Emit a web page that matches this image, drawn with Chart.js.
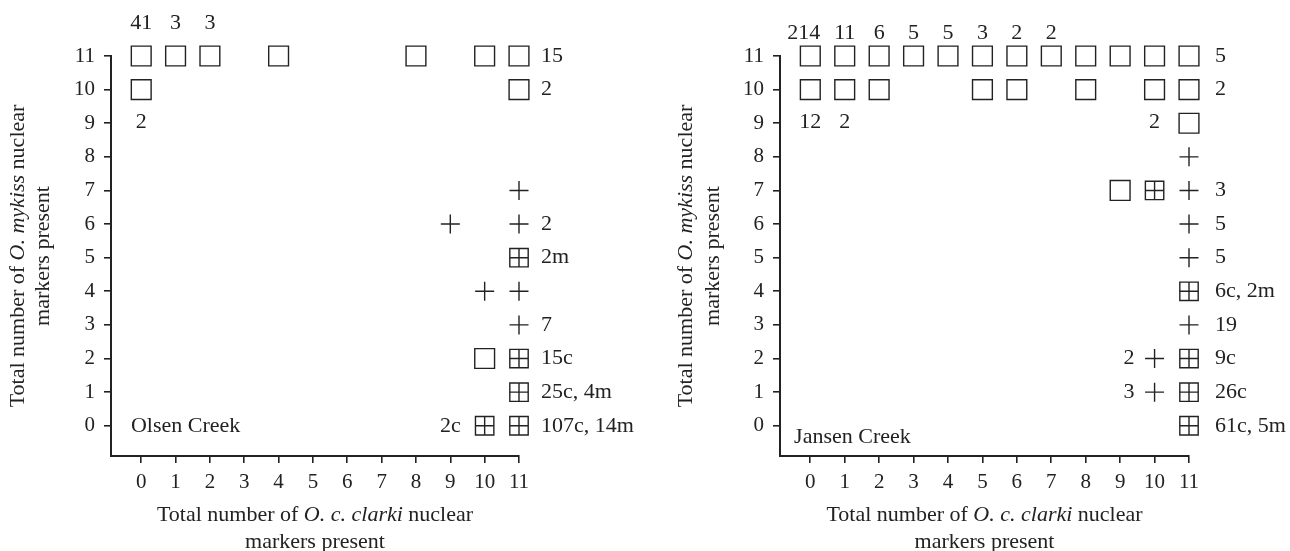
<!DOCTYPE html>
<html>
<head>
<meta charset="utf-8">
<script src="https://cdn.jsdelivr.net/npm/chart.js@4"></script>
<style>
  body { margin: 0; background: #fff; }
  #wrap { position: relative; width: 1290px; height: 551px; }
  canvas { position: absolute; top: 0; }
</style>
</head>
<body>
<div id="wrap">
  <canvas id="olsen" width="645" height="551" style="left:0"></canvas>
  <canvas id="jansen" width="645" height="551" style="left:645px"></canvas>
</div>
<script>
let tickValues = [0, 1, 2, 3, 4, 5, 6, 7, 8, 9, 10, 11];

// Olsen Creek
let olsenSquares = [
  {x: 0, y: 11}, {x: 1, y: 11}, {x: 2, y: 11}, {x: 4, y: 11}, {x: 8, y: 11}, {x: 10, y: 11}, {x: 11, y: 11},
  {x: 0, y: 10}, {x: 11, y: 10}, {x: 10, y: 2}
];
let olsenPlus = [{x: 11, y: 7}, {x: 9, y: 6}, {x: 11, y: 6}, {x: 10, y: 4}, {x: 11, y: 4}, {x: 11, y: 3}];
let olsenBoxed = [{x: 11, y: 5}, {x: 11, y: 2}, {x: 11, y: 1}, {x: 10, y: 0}, {x: 11, y: 0}];
let olsenCounts = [
  {x: 0, y: 11, text: '41', pos: 'above'}, {x: 1, y: 11, text: '3', pos: 'above'}, {x: 2, y: 11, text: '3', pos: 'above'},
  {x: 11, y: 11, text: '15', pos: 'right'}, {x: 0, y: 10, text: '2', pos: 'below'}, {x: 11, y: 10, text: '2', pos: 'right'},
  {x: 11, y: 6, text: '2', pos: 'right'}, {x: 11, y: 5, text: '2m', pos: 'right'}, {x: 11, y: 3, text: '7', pos: 'right'},
  {x: 11, y: 2, text: '15c', pos: 'right'}, {x: 11, y: 1, text: '25c, 4m', pos: 'right'},
  {x: 10, y: 0, text: '2c', pos: 'left'}, {x: 11, y: 0, text: '107c, 14m', pos: 'right'}
];

// Jansen Creek
let jansenSquares = [
  {x: 0, y: 11}, {x: 1, y: 11}, {x: 2, y: 11}, {x: 3, y: 11}, {x: 4, y: 11}, {x: 5, y: 11},
  {x: 6, y: 11}, {x: 7, y: 11}, {x: 8, y: 11}, {x: 9, y: 11}, {x: 10, y: 11}, {x: 11, y: 11},
  {x: 0, y: 10}, {x: 1, y: 10}, {x: 2, y: 10}, {x: 5, y: 10}, {x: 6, y: 10}, {x: 8, y: 10}, {x: 10, y: 10}, {x: 11, y: 10},
  {x: 11, y: 9}, {x: 9, y: 7}
];
let jansenPlus = [{x: 11, y: 8}, {x: 11, y: 7}, {x: 11, y: 6}, {x: 11, y: 5}, {x: 11, y: 3}, {x: 10, y: 2}, {x: 10, y: 1}];
let jansenBoxed = [{x: 10, y: 7}, {x: 11, y: 4}, {x: 11, y: 2}, {x: 11, y: 1}, {x: 11, y: 0}];
let jansenCounts = [
  {x: 0, y: 11, text: '214', pos: 'above-left'}, {x: 1, y: 11, text: '11', pos: 'above'}, {x: 2, y: 11, text: '6', pos: 'above'},
  {x: 3, y: 11, text: '5', pos: 'above'}, {x: 4, y: 11, text: '5', pos: 'above'}, {x: 5, y: 11, text: '3', pos: 'above'},
  {x: 6, y: 11, text: '2', pos: 'above'}, {x: 7, y: 11, text: '2', pos: 'above'},
  {x: 11, y: 11, text: '5', pos: 'right'}, {x: 11, y: 10, text: '2', pos: 'right'},
  {x: 0, y: 10, text: '12', pos: 'below'}, {x: 1, y: 10, text: '2', pos: 'below'}, {x: 10, y: 10, text: '2', pos: 'below'},
  {x: 11, y: 7, text: '3', pos: 'right'}, {x: 11, y: 6, text: '5', pos: 'right'}, {x: 11, y: 5, text: '5', pos: 'right'},
  {x: 11, y: 4, text: '6c, 2m', pos: 'right'}, {x: 11, y: 3, text: '19', pos: 'right'},
  {x: 10, y: 2, text: '2', pos: 'left'}, {x: 11, y: 2, text: '9c', pos: 'right'},
  {x: 10, y: 1, text: '3', pos: 'left'}, {x: 11, y: 1, text: '26c', pos: 'right'},
  {x: 11, y: 0, text: '61c, 5m', pos: 'right'}
];

let ink = '#222';
let fontFamily = '"Liberation Serif", "DejaVu Serif", serif';
let tickSize = 21;
let fontSize = 22;

function richLine(ctx, parts, cx, cy) {
  let widths = parts.map(p => {
    ctx.font = (p[1] ? 'italic ' : '') + fontSize + 'px ' + fontFamily;
    return ctx.measureText(p[0]).width;
  });
  let total = widths.reduce((a, b) => a + b, 0);
  let x = cx - total / 2;
  parts.forEach((p, i) => {
    ctx.font = (p[1] ? 'italic ' : '') + fontSize + 'px ' + fontFamily;
    ctx.fillText(p[0], x, cy);
    x += widths[i];
  });
}

let notesPlugin = {
  id: 'notes',
  afterDatasetsDraw(chart, args, opts) {
    let ctx = chart.ctx, xs = chart.scales.x, ys = chart.scales.y, area = chart.chartArea;
    ctx.save();
    ctx.fillStyle = ink;
    ctx.font = fontSize + 'px ' + fontFamily;
    ctx.textBaseline = 'middle';
    opts.counts.forEach(n => {
      let px = xs.getPixelForValue(n.x), py = ys.getPixelForValue(n.y);
      if (n.pos === 'above') { ctx.textAlign = 'center'; ctx.fillText(n.text, px, py - opts.gap.above); }
      if (n.pos === 'above-left') { ctx.textAlign = 'right'; ctx.fillText(n.text, px + 10, py - opts.gap.above); }
      if (n.pos === 'below') { ctx.textAlign = 'center'; ctx.fillText(n.text, px, py + opts.gap.below); }
      if (n.pos === 'right') { ctx.textAlign = 'left'; ctx.fillText(n.text, px + opts.gap.right, py); }
      if (n.pos === 'left') { ctx.textAlign = 'right'; ctx.fillText(n.text, px - opts.gap.left, py); }
    });
    ctx.textAlign = 'left';
    ctx.fillText(opts.site.text, xs.getPixelForValue(opts.site.x), ys.getPixelForValue(opts.site.y));

    // axis titles
    let cx = (area.left + area.right) / 2;
    richLine(ctx, [['Total number of ', false], ['O. c. clarki', true], [' nuclear', false]], cx, 515);
    richLine(ctx, [['markers present', false]], cx, 542);
    let cy = (area.top + area.bottom) / 2;
    ctx.save();
    ctx.translate(opts.yTitleX[0], cy);
    ctx.rotate(-Math.PI / 2);
    richLine(ctx, [['Total number of ', false], ['O. mykiss', true], [' nuclear', false]], 0, 0);
    ctx.restore();
    ctx.save();
    ctx.translate(opts.yTitleX[1], cy);
    ctx.rotate(-Math.PI / 2);
    richLine(ctx, [['markers present', false]], 0, 0);
    ctx.restore();
    ctx.restore();
  }
};

function makeChart(id, squares, plus, boxed, notes, axisWidth, padRight) {
  let mark = {borderColor: ink, backgroundColor: 'rgba(0,0,0,0)', borderWidth: 1.4, clip: false, showLine: false};
  return new Chart(document.getElementById(id), {
    type: 'scatter',
    data: {
      datasets: [
        Object.assign({data: squares, pointStyle: 'rect', pointRadius: 14}, mark),
        Object.assign({data: plus, pointStyle: 'cross', pointRadius: 9.5}, mark),
        Object.assign({data: boxed, pointStyle: 'rect', pointRadius: 13}, mark),
        Object.assign({data: boxed, pointStyle: 'cross', pointRadius: 9.2}, mark),
      ]
    },
    options: {
      responsive: false,
      animation: false,
      events: [],
      layout: {padding: {top: 56, right: padRight, bottom: 0, left: 0}},
      plugins: {legend: {display: false}, tooltip: {enabled: false}, notes: notes},
      scales: {
        x: {
          type: 'linear', min: -0.88, max: 11,
          afterFit: s => { s.height = 95; },
          afterBuildTicks: s => { s.ticks = tickValues.map(v => ({value: v})); },
          border: {display: true, color: ink, width: 2},
          grid: {display: true, drawOnChartArea: false, drawTicks: true, tickLength: 7, color: ink, lineWidth: 1.6},
          ticks: {color: ink, padding: 7, font: {family: fontFamily, size: tickSize}, maxRotation: 0}
        },
        y: {
          type: 'linear', min: -0.9, max: 11,
          afterFit: s => { s.width = axisWidth; },
          afterBuildTicks: s => { s.ticks = tickValues.map(v => ({value: v})); },
          border: {display: true, color: ink, width: 2},
          grid: {display: true, drawOnChartArea: false, drawTicks: true, tickLength: 7, color: ink, lineWidth: 1.6},
          ticks: {color: ink, padding: 9, font: {family: fontFamily, size: tickSize}}
        }
      }
    },
    plugins: [notesPlugin]
  });
}

makeChart('olsen', olsenSquares, olsenPlus, olsenBoxed, {
  counts: olsenCounts,
  gap: {above: 33, below: 33, right: 22, left: 24},
  site: {text: 'Olsen Creek', x: -0.3, y: 0},
  yTitleX: [18, 43]
}, 111, 126);

makeChart('jansen', jansenSquares, jansenPlus, jansenBoxed, {
  counts: jansenCounts,
  gap: {above: 23, below: 33, right: 26, left: 20},
  site: {text: 'Jansen Creek', x: -0.47, y: -0.33},
  yTitleX: [41, 68]
}, 135, 101);
</script>
</body>
</html>
